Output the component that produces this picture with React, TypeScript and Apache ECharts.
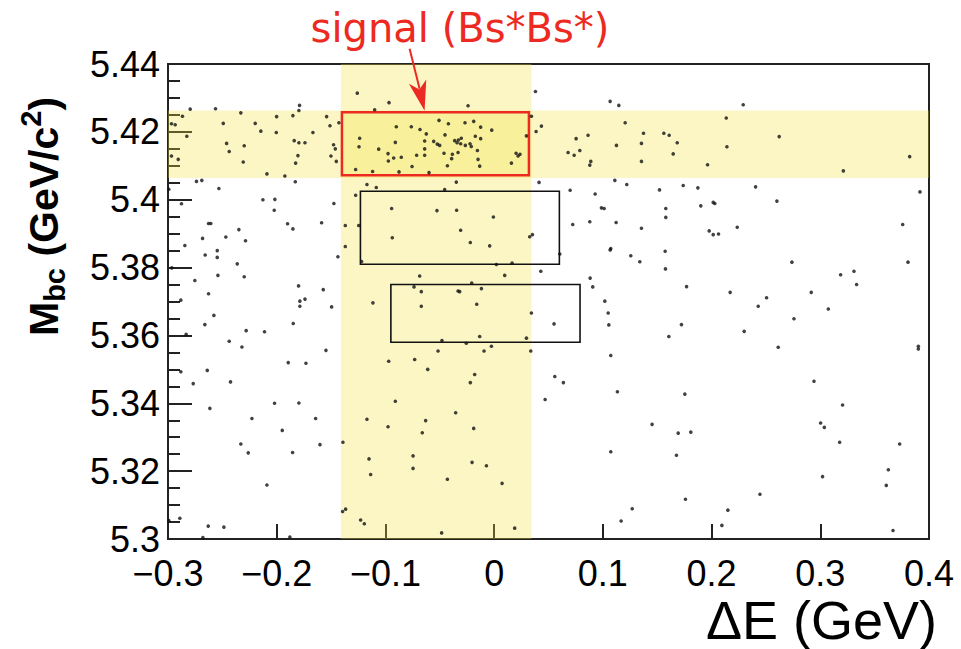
import React, { useEffect, useRef } from "react";
import * as echarts from "echarts";

// ΔE (GeV), Mbc (GeV/c^2) events, grouped by region
const eventsUpperLeft: number[][] = [
  [-0.1259,5.4314],[-0.0967,5.4286],[-0.1099,5.4265],[-0.2796,5.4267],[-0.2563,5.4268],[-0.2330,5.4256],[-0.1790,5.4278],[-0.1796,5.4263],[-0.2867,5.4246],[-0.2001,5.4245],[-0.1851,5.4248],[-0.1541,5.4245],[-0.1428,5.4227],[-0.2968,5.4224],[-0.2934,5.4221],[-0.2492,5.4225],[-0.2198,5.4225],[-0.1510,5.4218],[-0.0900,5.4215],[-0.0762,5.4215],[-0.2146,5.4202],[-0.2004,5.4198],[-0.1667,5.4198],[-0.2827,5.4187],[-0.1237,5.4181],[-0.1839,5.4174],[-0.1796,5.4168],[-0.1740,5.4168],[-0.2461,5.4166],[-0.2299,5.4159],[-0.1477,5.4162],[-0.1461,5.4150],[-0.1243,5.4156],[-0.0909,5.4169],[-0.1062,5.4149],[-0.2437,5.4142],[-0.0976,5.4136],[-0.2968,5.4129],[-0.2906,5.4119],[-0.1805,5.4130],[-0.1501,5.4129],[-0.0924,5.4123],[-0.0854,5.4125],[-0.0755,5.4098],[-0.2308,5.4111],[-0.1826,5.4108],[-0.1452,5.4113],[-0.0973,5.4114],[-0.1274,5.4089],[-0.1118,5.4083],[-0.0875,5.4082],[-0.2090,5.4076],[-0.1925,5.4070],[-0.2738,5.4054],[-0.2689,5.4057],[-0.1829,5.4053],[-0.1170,5.4045],[-0.1084,5.4036],[-0.2992,5.4031],[-0.2532,5.4033],[-0.1274,5.4013],[-0.2876,5.3988],[-0.2127,5.4000],[-0.2017,5.4001],[-0.1474,5.3989],[-0.2023,5.3969],[-0.0943,5.3974]
];
const eventsUpperCenter: number[][] = [
  [0.0380,5.4319],[0.1067,5.4290],[0.1147,5.4278],[-0.0240,5.4277],[-0.0507,5.4234],[-0.0421,5.4224],[-0.0268,5.4227],[-0.0188,5.4231],[-0.0124,5.4214],[-0.0022,5.4205],[-0.0682,5.4207],[0.0343,5.4246],[0.0435,5.4217],[0.0386,5.4201],[0.1205,5.4227],[-0.0624,5.4194],[-0.0452,5.4191],[-0.0173,5.4187],[-0.0124,5.4180],[-0.0302,5.4181],[-0.0329,5.4176],[-0.0363,5.4174],[-0.0341,5.4168],[-0.0308,5.4165],[-0.0556,5.4172],[-0.0523,5.4164],[-0.0501,5.4160],[-0.0265,5.4160],[-0.0222,5.4165],[-0.0210,5.4157],[-0.0639,5.4173],[0.0297,5.4188],[0.0864,5.4190],[0.0754,5.4180],[0.1374,5.4196],[0.1561,5.4196],[0.1610,5.4190],[0.1125,5.4160],[0.1355,5.4166],[-0.0639,5.4150],[-0.0154,5.4145],[-0.0332,5.4139],[-0.0384,5.4134],[-0.0461,5.4137],[0.0680,5.4139],[0.0788,5.4145],[0.0736,5.4131],[0.0202,5.4137],[0.0238,5.4134],[0.0220,5.4129],[-0.0713,5.4131],[-0.0639,5.4131],[-0.0391,5.4121],[-0.0148,5.4119],[0.0889,5.4113],[0.0880,5.4102],[0.1355,5.4113],[-0.0430,5.4100],[-0.0133,5.4099],[0.0159,5.4108],[-0.0599,5.4080],[-0.0348,5.4052],[0.0413,5.4051],[0.1110,5.4057],[0.1220,5.4045],[-0.0455,5.4030],[0.0699,5.4028],[0.0929,5.4017],[0.1521,5.4029],[-0.0526,5.3968],[-0.0345,5.3969],[0.0987,5.3976],[0.1012,5.3974],[0.1579,5.3974]
];
const eventsUpperRight: number[][] = [
  [0.2291,5.4280],[0.2135,5.4241],[0.1684,5.4168],[0.1647,5.4135],[0.2141,5.4156],[0.2622,5.4186],[0.1963,5.4103],[0.3212,5.4085],[0.3822,5.4127],[0.1739,5.4042],[0.1874,5.4035],[0.2405,5.4038],[0.3917,5.4023],[0.1901,5.3982],[0.2015,5.3992],[0.2030,5.3989],[0.2601,5.3996]
];
const eventsMiddleLeft: number[][] = [
  [-0.2627,5.3930],[-0.2606,5.3930],[-0.1900,5.3929],[-0.1851,5.3914],[-0.1587,5.3932],[-0.2348,5.3912],[-0.1369,5.3924],[-0.1246,5.3924],[-0.2682,5.3886],[-0.2468,5.3890],[-0.2287,5.3879],[-0.0937,5.3888],[-0.2845,5.3865],[-0.2547,5.3850],[-0.2658,5.3837],[-0.2547,5.3830],[-0.1369,5.3862],[-0.1437,5.3832],[-0.1219,5.3818],[-0.2363,5.3811],[-0.2965,5.3799],[-0.2541,5.3777],[-0.2299,5.3773],[-0.2753,5.3762],[-0.1799,5.3746],[-0.1572,5.3735],[-0.2627,5.3723],[-0.0737,5.3743],[-0.2882,5.3704],[-0.1787,5.3701],[-0.1740,5.3707],[-0.1787,5.3686],[-0.1495,5.3684],[-0.1115,5.3696],[-0.2578,5.3659],[-0.1848,5.3635],[-0.2661,5.3632],[-0.2281,5.3614],[-0.2112,5.3611],[-0.2833,5.3603],[-0.2437,5.3583],[-0.2320,5.3566],[-0.1547,5.3556],[-0.1894,5.3520],[-0.1731,5.3518],[-0.0970,5.3524],[-0.0731,5.3529],[-0.2882,5.3493],[-0.2639,5.3497]
];
const eventsMiddleCenter: number[][] = [
  [-0.0007,5.3949],[0.0723,5.3927],[0.0880,5.3935],[0.1122,5.3933],[0.1355,5.3916],[0.1579,5.3948],[-0.0308,5.3910],[0.0327,5.3891],[0.0352,5.3897],[-0.0219,5.3874],[-0.0041,5.3864],[0.1067,5.3852],[0.1073,5.3856],[0.1573,5.3848],[0.1257,5.3835],[0.1340,5.3817],[0.0604,5.3840],[0.0021,5.3809],[0.0165,5.3813],[0.1576,5.3796],[0.0429,5.3789],[-0.0685,5.3775],[0.0097,5.3777],[-0.0206,5.3754],[0.0883,5.3769],[0.0907,5.3743],[-0.0670,5.3729],[-0.0332,5.3731],[-0.0317,5.3729],[-0.0117,5.3738],[-0.0670,5.3686],[-0.0160,5.3692],[0.1018,5.3701],[0.1049,5.3666],[0.0343,5.3666],[0.0551,5.3634],[0.1055,5.3631],[0.1607,5.3597],[-0.0133,5.3597],[-0.0480,5.3585],[-0.0256,5.3577],[-0.0025,5.3568],[0.0297,5.3592],[-0.0516,5.3554],[-0.0093,5.3554],[0.0337,5.3554],[0.1073,5.3541],[-0.0611,5.3500],[-0.0179,5.3485]
];
const eventsMiddleRight: number[][] = [
  [0.3758,5.3927],[0.1978,5.3908],[0.2015,5.3897],[0.2064,5.3899],[0.2236,5.3919],[0.3807,5.3816],[0.2739,5.3816],[0.3187,5.3779],[0.3310,5.3789],[0.3334,5.3750],[0.1770,5.3744],[0.2171,5.3727],[0.2506,5.3711],[0.2917,5.3727],[0.2429,5.3686],[0.3074,5.3678],[0.2758,5.3649],[0.1723,5.3632],[0.2300,5.3612],[0.2613,5.3565],[0.3902,5.3568],[0.3902,5.3560]
];
const eventsLowerLeft: number[][] = [
  [-0.2768,5.3458],[-0.2425,5.3463],[-0.2615,5.3385],[-0.2020,5.3400],[-0.1796,5.3401],[-0.0909,5.3406],[-0.2228,5.3355],[-0.1642,5.3355],[-0.1170,5.3353],[-0.0976,5.3331],[-0.1949,5.3320],[-0.2330,5.3280],[-0.2262,5.3254],[-0.1854,5.3255],[-0.1602,5.3278],[-0.1391,5.3285],[-0.1151,5.3236],[-0.0746,5.3245],[-0.1136,5.3190],[-0.0746,5.3208],[-0.2090,5.3159],[-0.1394,5.3081],[-0.1366,5.3088],[-0.1228,5.3056],[-0.1194,5.3045],[-0.2891,5.3061],[-0.2992,5.3054],[-0.2630,5.3038],[-0.2486,5.3035],[-0.2679,5.3004],[-0.1879,5.3006]
];
const eventsLowerCenter: number[][] = [
  [-0.0219,5.3461],[0.0558,5.3479],[0.0637,5.3461],[0.1134,5.3434],[0.0469,5.3411],[-0.0354,5.3372],[-0.0630,5.3349],[-0.0188,5.3326],[-0.0661,5.3313],[0.1453,5.3338],[0.1073,5.3257],[-0.0203,5.3226],[-0.0071,5.3216],[-0.0430,5.3176],[0.0073,5.3164],[0.1270,5.3089],[0.1168,5.3053],[-0.0483,5.3018],[0.0189,5.3032]
];
const eventsLowerRight: number[][] = [
  [0.2942,5.3465],[0.1754,5.3427],[0.3205,5.3395],[0.3003,5.3342],[0.3037,5.3329],[0.1693,5.3312],[0.1809,5.3315],[0.3178,5.3285],[0.3730,5.3280],[0.1677,5.3247],[0.3021,5.3184],[0.3626,5.3204],[0.3607,5.3158],[0.1760,5.3117],[0.2445,5.3132],[0.2150,5.3085],[0.2095,5.3040],[0.3669,5.3025]
];

// Selection windows: [ΔE min, ΔE max, Mbc min, Mbc max]
const deltaEBand = [-0.141, 0.0343];
const mbcBand = [5.4064, 5.4263];
const signalBox = [-0.140, 0.032, 5.4072, 5.4258];
const sidebandBoxes = [
  [-0.123, 0.060, 5.381, 5.4025],
  [-0.095, 0.079, 5.358, 5.375],
];
const arrowTip = [-0.064, 5.4262];

// Axes
const xRange = [-0.3, 0.4, 0.1];
const yRange = [5.3, 5.44, 0.02];
const signalLabel = "signal (Bs*Bs*)";
const xTitle = "\u0394E (GeV)";

export default function App() {
  const ref = useRef<HTMLDivElement>(null);
  useEffect(() => {
    if (!ref.current) return;
    const chart = echarts.init(ref.current, undefined, { renderer: "svg" });
    const allEvents = [
      ...eventsUpperLeft, ...eventsUpperCenter, ...eventsUpperRight,
      ...eventsMiddleLeft, ...eventsMiddleCenter, ...eventsMiddleRight,
      ...eventsLowerLeft, ...eventsLowerCenter, ...eventsLowerRight,
    ];
    const bandColor = "rgba(242,226,60,0.30)";
    const font = "Liberation Sans";
    chart.setOption({
      animation: false,
      backgroundColor: "#fff",
      grid: {
        left: 168, top: 64, right: 32, bottom: 110,
        show: true, borderColor: "#222", borderWidth: 2, backgroundColor: "transparent",
      },
      xAxis: {
        type: "value", min: xRange[0], max: xRange[1], interval: xRange[2],
        axisLine: { show: true, onZero: false, lineStyle: { color: "#222", width: 2 } },
        axisTick: { show: true, inside: true, length: 15, lineStyle: { color: "#222", width: 2 } },
        splitLine: { show: false },
        axisLabel: {
          color: "#000", fontSize: 36, lineHeight: 30, fontFamily: font, margin: 19,
          showMinLabel: true, showMaxLabel: true,
          formatter: (v: number) => {
            const r = Math.round(v * 10) / 10;
            if (r === 0) return "0";
            return r < 0 ? "\u2212" + Math.abs(r) : String(r);
          },
        },
      },
      yAxis: {
        type: "value", min: yRange[0], max: yRange[1], interval: yRange[2],
        axisLine: { show: true, onZero: false, lineStyle: { color: "#222", width: 2 } },
        axisTick: { show: true, inside: true, length: 24, lineStyle: { color: "#222", width: 2 } },
        minorTick: { show: true, splitNumber: 4, length: 12, lineStyle: { color: "#222", width: 2 } },
        splitLine: { show: false },
        axisLabel: {
          color: "#000", fontSize: 36, lineHeight: 28, fontFamily: font, margin: 8,
          showMinLabel: true, showMaxLabel: true,
          formatter: (v: number) => String(Math.round(v * 100) / 100),
        },
      },
      series: [
        {
          type: "scatter", data: [], z: 1, silent: true,
          markArea: {
            silent: true,
            itemStyle: { color: bandColor, borderWidth: 0 },
            data: [
              [{ xAxis: deltaEBand[0], yAxis: yRange[0] }, { xAxis: deltaEBand[1], yAxis: yRange[1] }],
              [{ xAxis: xRange[0], yAxis: mbcBand[0] }, { xAxis: xRange[1], yAxis: mbcBand[1] }],
            ],
          },
        },
        {
          type: "scatter", data: [], z: 2, silent: true,
          markArea: {
            silent: true,
            data: [
              [
                { xAxis: signalBox[0], yAxis: signalBox[2], itemStyle: { color: "transparent", borderColor: "#ec2a22", borderWidth: 2.5 } },
                { xAxis: signalBox[1], yAxis: signalBox[3] },
              ],
              ...sidebandBoxes.map((b) => [
                { xAxis: b[0], yAxis: b[2], itemStyle: { color: "transparent", borderColor: "#111", borderWidth: 1.6 } },
                { xAxis: b[1], yAxis: b[3] },
              ]),
            ],
          },
        },
        {
          type: "scatter", z: 3, silent: true,
          symbol: "circle", symbolSize: 3.6,
          itemStyle: { color: "#111" },
          data: allEvents,
        },
      ],
    });

    const tip = chart.convertToPixel({ gridIndex: 0 }, arrowTip) as number[];
    const tx = tip[0], ty = tip[1];

    // y-axis title pieces measured for placement
    const ctx = document.createElement("canvas").getContext("2d")!;
    const big = 41, small = 29;
    const pieces = [
      { t: "M", size: big, base: 0 },
      { t: "bc", size: small, base: 7 },
      { t: " (GeV/c", size: big, base: 0 },
      { t: "2", size: small, base: -17 },
      { t: ")", size: big, base: 0 },
    ];
    let off = 0;
    const children = pieces.map((p) => {
      ctx.font = `bold ${p.size}px "${font}"`;
      const w = ctx.measureText(p.t).width;
      const el = {
        type: "text", x: off, y: p.base - 0.3465 * p.size,
        style: { text: p.t, fontSize: p.size, fontWeight: "bold", fontFamily: font, fill: "#000", align: "left", verticalAlign: "middle" },
      };
      off += w;
      return el;
    });

    chart.setOption({
      graphic: [
        { type: "group", x: 58, y: 336, rotation: Math.PI / 2, children },
        {
          type: "text", x: 937, y: 620,
          style: { text: xTitle, fontSize: 54, lineHeight: 44, fontFamily: font, fill: "#000", align: "right", verticalAlign: "middle" },
        },
        {
          type: "text", x: 460, y: 28,
          style: { text: signalLabel, fontSize: 40, fontFamily: "DejaVu Sans", fill: "#ec2a22", align: "center", verticalAlign: "middle" },
        },
        {
          type: "line", z: 10,
          shape: { x1: tx - 15, y1: ty - 62, x2: tx - 5, y2: ty - 22 },
          style: { stroke: "#ec2a22", lineWidth: 2 },
        },
        {
          type: "polygon", z: 10,
          shape: { points: [[tx, ty], [tx - 15.7, ty - 27.1], [tx - 5.2, ty - 21.4], [tx + 1.7, ty - 31.3]] },
          style: { fill: "#ec2a22" },
        },
      ],
    });

    return () => chart.dispose();
  }, []);
  return <div ref={ref} style={{ position: "fixed", left: 0, top: 0, width: 961, height: 649, background: "#fff" }} />;
}
